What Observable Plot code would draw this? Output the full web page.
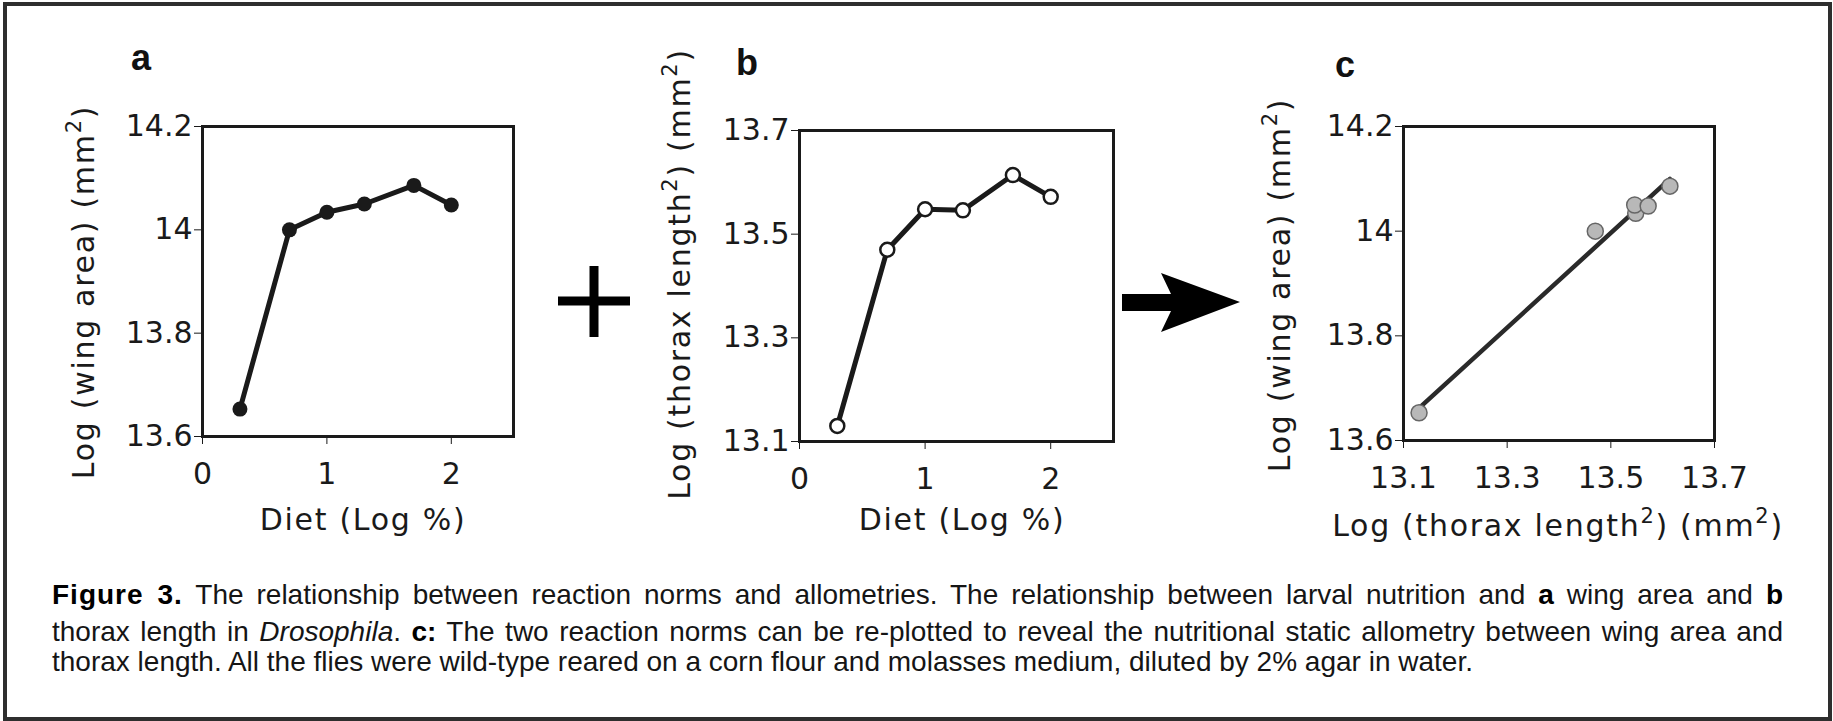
<!DOCTYPE html>
<html><head><meta charset="utf-8">
<script src="https://cdn.jsdelivr.net/npm/d3@7"></script>
<script src="https://cdn.jsdelivr.net/npm/@observablehq/plot@0.6"></script>
<style>
html,body{margin:0;padding:0;background:#fff;}
#fig{position:relative;width:1833px;height:721px;overflow:hidden;background:#fff;}
#border{position:absolute;left:3px;top:2px;width:1829px;height:719px;box-sizing:border-box;border:4px solid #2e2e2e;}
.layer{position:absolute;left:0;top:0;}
.letter{position:absolute;font-family:"Liberation Sans",Arial,sans-serif;font-weight:bold;font-size:36px;line-height:1;color:#111;}
.cap{position:absolute;left:52px;white-space:nowrap;font-family:"Liberation Sans",Arial,sans-serif;font-size:28px;color:#151515;line-height:1;}
.cap b{font-weight:bold;color:#000;}
.cap .fig{letter-spacing:1px;}
</style></head><body>
<div id="fig">
  <div id="border"></div>
  <div id="plots"></div>
  <svg class="layer" width="1833" height="721">
    <path d="M558,301H630M594,266V337" stroke="#000" stroke-width="9" fill="none"/>
    <path d="M1122,294H1171L1161,273L1240,302L1161,332L1171,311H1122Z" fill="#000"/>
  </svg>
  <div class="letter" style="left:131px;top:40px">a</div>
  <div class="letter" style="left:736px;top:45px">b</div>
  <div class="letter" style="left:1335px;top:47px">c</div>
  <div class="cap" id="cap1" data-target="1731"><b class="fig">Figure 3.</b> The relationship between reaction norms and allometries. The relationship between larval nutrition and <b>a</b> wing area and <b>b</b></div>
  <div class="cap" id="cap2" data-target="1731">thorax length in <i>Drosophila</i>. <b>c:</b> The two reaction norms can be re-plotted to reveal the nutritional static allometry between wing area and</div>
  <div class="cap" id="cap3">thorax length. All the flies were wild-type reared on a corn flour and molasses medium, diluted by 2% agar in water.</div>
</div>
<script>
// Data
const dietLogPct   = [0.301, 0.699, 1.0, 1.301, 1.699, 2.0];        // Diet (Log %)
const logWingArea  = [13.653, 14.0, 14.034, 14.05, 14.086, 14.048]; // panel a
const logThoraxSq  = [13.13, 13.47, 13.548, 13.546, 13.614, 13.572]; // panel b
const dietTicks    = [0, 1, 2];
const wingTicks    = [13.6, 13.8, 14, 14.2];
const thoraxTicks  = [13.1, 13.3, 13.5, 13.7];

const rows = dietLogPct.map((d, i) => ({diet: d, wing: logWingArea[i], thorax: logThoraxSq[i]}));

const INK = "#1a1a1a";
const W = 1833, H = 560;

function panel({left, right, top, bottom, x, y, marks}) {
  return Plot.plot({
    width: W, height: H,
    marginLeft: left, marginRight: W - right, marginTop: top, marginBottom: H - bottom,
    x: {...x, label: null, tickSize: 8, tickPadding: 18, tickFormat: d => String(d)},
    y: {...y, label: null, tickSize: 8, tickPadding: 2, tickFormat: d => String(d)},
    style: {fontFamily: "'DejaVu Sans'", fontSize: "30px", color: INK, background: "transparent", overflow: "visible"},
    marks: [...marks, Plot.frame({stroke: INK, strokeWidth: 3})]
  });
}

function addTitle(svg, x, y, rotate, parts) {
  const t = d3.select(svg).append("text")
    .attr("transform", `translate(${x},${y})` + (rotate ? ` rotate(${rotate})` : ""))
    .attr("text-anchor", "middle")
    .attr("font-family", "DejaVu Sans")
    .attr("font-size", 30)
    .attr("letter-spacing", 1.7)
    .attr("fill", INK);
  let raised = false;
  for (const [txt, sup] of parts) {
    const s = t.append("tspan").text(txt);
    if (sup) { s.attr("font-size", 21).attr("dy", -13); raised = true; }
    else if (raised) { s.attr("dy", 13); raised = false; }
  }
}

const a = panel({
  left: 202, right: 513, top: 126, bottom: 436,
  x: {domain: [0, 2.5], ticks: dietTicks},
  y: {domain: [13.6, 14.2], ticks: wingTicks},
  marks: [
    Plot.line(rows, {x: "diet", y: "wing", stroke: INK, strokeWidth: 5}),
    Plot.dot(rows, {x: "diet", y: "wing", r: 7.5, fill: INK, stroke: "none"})
  ]
});
const b = panel({
  left: 799, right: 1113, top: 130, bottom: 441,
  x: {domain: [0, 2.5], ticks: dietTicks},
  y: {domain: [13.1, 13.7], ticks: thoraxTicks},
  marks: [
    Plot.line(rows, {x: "diet", y: "thorax", stroke: INK, strokeWidth: 5}),
    Plot.dot(rows, {x: "diet", y: "thorax", r: 7, fill: "#fff", stroke: INK, strokeWidth: 2.5})
  ]
});
const c = panel({
  left: 1403, right: 1714, top: 126, bottom: 440,
  x: {domain: [13.1, 13.7], ticks: thoraxTicks},
  y: {domain: [13.6, 14.2], ticks: wingTicks},
  marks: [
    Plot.linearRegressionY(rows, {x: "thorax", y: "wing", ci: 0, stroke: "#2a2a2a", strokeWidth: 4.5}),
    Plot.dot(rows, {x: "thorax", y: "wing", r: 8, fill: "#b8b8b8", stroke: "#666", strokeWidth: 1.5})
  ]
});

addTitle(a, 94, 292, -90, [["Log (wing area) (mm"], ["2", 1], [")"]]);
addTitle(a, 363, 530, 0, [["Diet (Log %)"]]);
addTitle(b, 690, 274, -90, [["Log (thorax length"], ["2", 1], [") (mm"], ["2", 1], [")"]]);
addTitle(b, 962, 530, 0, [["Diet (Log %)"]]);
addTitle(c, 1290, 285, -90, [["Log (wing area) (mm"], ["2", 1], [")"]]);
addTitle(c, 1558, 536, 0, [["Log (thorax length"], ["2", 1], [") (mm"], ["2", 1], [")"]]);

const holder = document.getElementById("plots");
for (const s of [a, b, c]) { s.classList.add("layer"); s.style.position = "absolute"; s.style.left = "0"; s.style.top = "0"; s.style.maxWidth = "none"; holder.appendChild(s); }

// Caption layout: first two lines justified to the full measure
const caps = ["cap1", "cap2", "cap3"].map(id => document.getElementById(id));
const fs = 28;
for (const el of caps.slice(0, 2)) {
  el.style.wordSpacing = "0px";
  const w = el.getBoundingClientRect().width;
  const n = (el.textContent.match(/ /g) || []).length;
  el.style.wordSpacing = ((+el.dataset.target - w) / n) + "px";
}
const baselines = [605, 642, 672];
caps.forEach((el, i) => { el.style.top = (baselines[i] - 0.8465 * fs) + "px"; });
</script>
</body></html>
